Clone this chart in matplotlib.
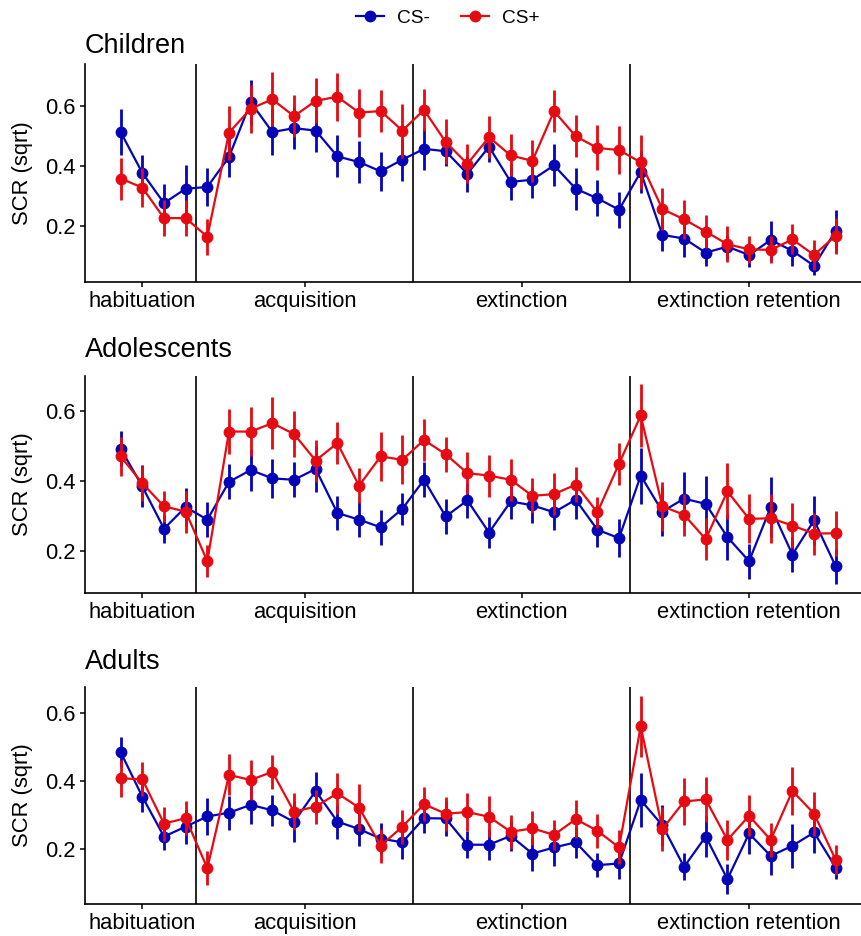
import numpy as np
import matplotlib
matplotlib.use("Agg")
import matplotlib.pyplot as plt
from matplotlib.lines import Line2D

plt.rcParams['font.family'] = ['Liberation Sans', 'DejaVu Sans']

# data: mean SCR per trial (34 trials) and error
groups = ["Children", "Adolescents", "Adults"]
phase_labels = ["habituation", "acquisition", "extinction", "extinction retention"]
phase_ticks = [1, 8.5, 18.5, 29]
phase_breaks = [3.5, 13.5, 23.5]

children_csm = [0.513, 0.377, 0.276, 0.324, 0.33, 0.43, 0.613, 0.513, 0.526, 0.518, 0.432, 0.413, 0.382, 0.421,
                0.457, 0.449, 0.374, 0.464, 0.347, 0.354, 0.402, 0.324, 0.292, 0.254,
                0.38, 0.17, 0.158, 0.111, 0.131, 0.103, 0.153, 0.117, 0.067, 0.184]
children_csm_err = [0.076, 0.06, 0.063, 0.08, 0.063, 0.068, 0.075, 0.076, 0.07, 0.07, 0.07, 0.07, 0.065, 0.07,
                    0.07, 0.05, 0.06, 0.05, 0.06, 0.06, 0.07, 0.07, 0.06, 0.06,
                    0.07, 0.055, 0.06, 0.045, 0.04, 0.04, 0.065, 0.05, 0.03, 0.07]
children_csp = [0.358, 0.328, 0.226, 0.226, 0.164, 0.511, 0.591, 0.622, 0.566, 0.617, 0.631, 0.578, 0.583, 0.518,
                0.587, 0.48, 0.407, 0.496, 0.435, 0.417, 0.583, 0.499, 0.46, 0.453,
                0.412, 0.256, 0.222, 0.181, 0.139, 0.122, 0.12, 0.155, 0.103, 0.168]
children_csp_err = [0.07, 0.065, 0.06, 0.06, 0.06, 0.09, 0.08, 0.09, 0.07, 0.075, 0.08, 0.08, 0.07, 0.09,
                    0.07, 0.075, 0.065, 0.07, 0.07, 0.07, 0.07, 0.07, 0.075, 0.08,
                    0.09, 0.07, 0.065, 0.055, 0.06, 0.045, 0.045, 0.05, 0.05, 0.06]

adol_csm = [0.492, 0.384, 0.263, 0.325, 0.289, 0.397, 0.431, 0.407, 0.403, 0.434, 0.308, 0.289, 0.267, 0.32,
            0.403, 0.298, 0.344, 0.252, 0.341, 0.33, 0.31, 0.346, 0.26, 0.236,
            0.415, 0.312, 0.349, 0.334, 0.239, 0.17, 0.325, 0.189, 0.287, 0.155]
adol_csm_err = [0.05, 0.06, 0.04, 0.055, 0.05, 0.05, 0.06, 0.055, 0.05, 0.065, 0.05, 0.05, 0.05, 0.045,
                0.05, 0.05, 0.05, 0.045, 0.05, 0.05, 0.05, 0.055, 0.05, 0.055,
                0.08, 0.07, 0.075, 0.08, 0.065, 0.05, 0.085, 0.05, 0.07, 0.05]
adol_csp = [0.47, 0.393, 0.327, 0.312, 0.17, 0.541, 0.541, 0.565, 0.534, 0.458, 0.508, 0.386, 0.47, 0.46,
            0.517, 0.476, 0.422, 0.415, 0.403, 0.357, 0.362, 0.389, 0.31, 0.449,
            0.587, 0.327, 0.303, 0.233, 0.37, 0.291, 0.293, 0.272, 0.249, 0.25]
adol_csp_err = [0.055, 0.05, 0.045, 0.06, 0.045, 0.065, 0.07, 0.075, 0.065, 0.06, 0.06, 0.05, 0.07, 0.07,
                0.06, 0.05, 0.06, 0.06, 0.06, 0.05, 0.06, 0.05, 0.045, 0.06,
                0.09, 0.07, 0.06, 0.06, 0.08, 0.07, 0.07, 0.065, 0.06, 0.065]

adult_csm = [0.485, 0.354, 0.237, 0.266, 0.296, 0.307, 0.33, 0.314, 0.28, 0.371, 0.281, 0.259, 0.231, 0.22,
             0.291, 0.29, 0.213, 0.213, 0.239, 0.187, 0.205, 0.22, 0.153, 0.158,
             0.344, 0.27, 0.148, 0.237, 0.112, 0.246, 0.18, 0.21, 0.249, 0.146]
adult_csm_err = [0.045, 0.045, 0.04, 0.05, 0.055, 0.05, 0.055, 0.045, 0.06, 0.055, 0.05, 0.05, 0.045, 0.05,
                 0.045, 0.05, 0.04, 0.045, 0.045, 0.05, 0.055, 0.045, 0.035, 0.045,
                 0.08, 0.06, 0.04, 0.06, 0.045, 0.06, 0.055, 0.065, 0.06, 0.035]
adult_csp = [0.408, 0.405, 0.275, 0.291, 0.144, 0.418, 0.403, 0.427, 0.31, 0.325, 0.364, 0.322, 0.21, 0.266,
             0.332, 0.304, 0.309, 0.295, 0.251, 0.261, 0.242, 0.288, 0.254, 0.205,
             0.561, 0.259, 0.34, 0.346, 0.227, 0.298, 0.227, 0.371, 0.304, 0.168]
adult_csp_err = [0.055, 0.05, 0.05, 0.05, 0.05, 0.06, 0.06, 0.05, 0.055, 0.05, 0.06, 0.07, 0.05, 0.05,
                 0.05, 0.05, 0.055, 0.06, 0.05, 0.05, 0.045, 0.055, 0.05, 0.05,
                 0.09, 0.065, 0.07, 0.065, 0.06, 0.06, 0.05, 0.07, 0.065, 0.045]

panels = [
    (children_csm, children_csm_err, children_csp, children_csp_err, (0.013, 0.74)),
    (adol_csm, adol_csm_err, adol_csp, adol_csp_err, (0.079, 0.70)),
    (adult_csm, adult_csm_err, adult_csp, adult_csp_err, (0.039, 0.676)),
]

blue = '#0505b8'
red = '#e60a12'
W, H = 861, 936
fig = plt.figure(figsize=(W / 100, H / 100), dpi=100)

# axes boxes in pixels (top, bottom) and title baselines
ax_tops = [64, 376, 687]
ax_bots = [282, 593, 904]
title_base = [53, 357, 669]
left_px, width_px = 84.9, 786.6
fs = 15.8

for i, (m1, e1, m2, e2, yl) in enumerate(panels):
    ax = fig.add_axes([left_px / W, 1 - ax_bots[i] / H, width_px / W, (ax_bots[i] - ax_tops[i]) / H])
    x = np.arange(len(m1))
    ax.errorbar(x, m1, yerr=e1, color=blue, marker='o', ms=7.5, lw=1.6, elinewidth=2.0, capsize=0, zorder=3)
    ax.errorbar(x, m2, yerr=e2, color=red, marker='o', ms=7.5, lw=1.6, elinewidth=2.0, capsize=0, zorder=4)
    for b in phase_breaks:
        ax.axvline(b, color='black', lw=1.2, zorder=2)
    ax.set_xlim(-1.65, 34.65)
    ax.set_ylim(*yl)
    ax.set_yticks([0.2, 0.4, 0.6])
    ax.set_yticklabels(['0.2', '0.4', '0.6'])
    ax.set_xticks(phase_ticks)
    ax.set_xticklabels(phase_labels)
    ax.tick_params(labelsize=fs, length=3.8, width=1.1, colors='black')
    ax.tick_params(axis='x', pad=3)
    ax.tick_params(axis='y', pad=3)
    for s in ['top', 'right']:
        ax.spines[s].set_visible(False)
    for s in ['left', 'bottom']:
        ax.spines[s].set_linewidth(1.2)
    ax.set_ylabel('SCR (sqrt)', fontsize=fs)
    ax.yaxis.set_label_coords(-0.066, 0.5)
    fig.text(left_px / W, 1 - title_base[i] / H, groups[i], fontsize=19.5, ha='left', va='baseline')

handles = [Line2D([0], [0], color=blue, marker='o', ms=7.5, lw=1.6),
           Line2D([0], [0], color=red, marker='o', ms=7.5, lw=1.6)]
fig.legend(handles, ['CS-', 'CS+'], loc='center', bbox_to_anchor=(448 / W, 1 - 18 / H), ncol=2,
           frameon=False, fontsize=13.8, handlelength=1.45, handletextpad=0.7, columnspacing=1.6)

fig.savefig('out.png', dpi=100)
